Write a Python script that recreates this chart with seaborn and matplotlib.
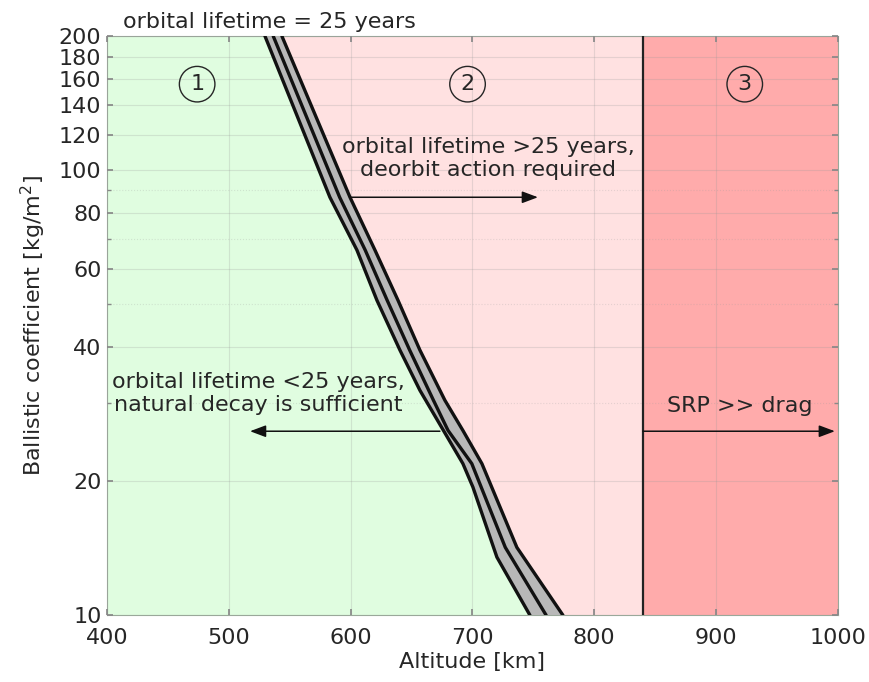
import numpy as np
import pandas as pd
import matplotlib
matplotlib.use("Agg")
import matplotlib.pyplot as plt
import seaborn as sns
from matplotlib.ticker import FixedLocator, FixedFormatter, NullFormatter

# Boundary lines of the 25-year lifetime band (ballistic coefficient vs altitude)
bc_lower = [200, 86.9, 66.1, 51.0, 39.4, 32.0, 21.9, 19.4, 13.5, 10]
alt_lower = [529.7, 583.0, 605.2, 621.6, 640.5, 656.9, 692.2, 700.4, 720.1, 747.2]

bc_mid = [200, 86.9, 66.1, 51.0, 39.4, 30.4, 26.0, 21.9, 14.2, 10]
alt_mid = [536.5, 591.0, 612.0, 630.0, 648.5, 668.0, 680.0, 699.5, 727.0, 760.5]

bc_upper = [200, 86.9, 66.1, 51.0, 39.4, 30.4, 26.0, 21.9, 14.2, 10]
alt_upper = [543.6, 599.5, 620.0, 638.9, 656.9, 677.4, 692.2, 707.8, 736.5, 774.3]

srp_limit = 840
x_range = [400, 1000]
y_range = [10, 200]
y_ticks = [10, 20, 40, 60, 80, 100, 120, 140, 160, 180, 200]
y_minor = [30, 50, 70, 90]
x_ticks = [400, 500, 600, 700, 800, 900, 1000]

sns.set_theme(style="white")
plt.rcParams['font.family'] = ['DejaVu Sans']

fig = plt.figure(figsize=(8.7, 6.82), dpi=100)
ax = fig.add_axes([0.123, 0.098, 0.840, 0.849])

txt = '#262626'
fs = 16

# region backgrounds
ax.fill_betweenx(bc_lower, x_range[0], alt_lower, color='#e0fde0', lw=0, zorder=0.5)
ax.fill_betweenx(bc_upper, alt_upper, srp_limit, color='#ffe1e1', lw=0, zorder=0.5)
ax.axvspan(srp_limit, x_range[1], color='#ffabab', lw=0, zorder=0.5)

# gray band
ax.fill(alt_lower + alt_upper[::-1], bc_lower + bc_upper[::-1],
        color='#b8b8b8', lw=0, zorder=2.6)

lines = pd.concat([
    pd.DataFrame({'alt': alt_lower, 'bc': bc_lower, 'line': 'lower'}),
    pd.DataFrame({'alt': alt_mid, 'bc': bc_mid, 'line': 'mid'}),
    pd.DataFrame({'alt': alt_upper, 'bc': bc_upper, 'line': 'upper'}),
])
sns.lineplot(data=lines, x='alt', y='bc', units='line', estimator=None,
             color='#111111', lw=2.4, ax=ax, zorder=3)

ax.axvline(srp_limit, color='#222222', lw=1.6, zorder=3)

ax.set_yscale('log')
ax.set_xlim(x_range)
ax.set_ylim(y_range)
ax.set_xticks(x_ticks)
ax.yaxis.set_major_locator(FixedLocator(y_ticks))
ax.yaxis.set_major_formatter(FixedFormatter([str(t) for t in y_ticks]))
ax.yaxis.set_minor_locator(FixedLocator(y_minor))
ax.yaxis.set_minor_formatter(NullFormatter())

ax.grid(True, which='major', color='#9a9a9a', alpha=0.25, lw=0.8)
ax.grid(True, which='minor', axis='y', color='#9a9a9a', alpha=0.25, lw=0.8, ls=':')
ax.set_axisbelow(False)

ax.tick_params(axis='both', which='both', direction='in', length=4,
               color='#888888', labelsize=fs, labelcolor=txt,
               left=True, bottom=True, top=True, right=True, pad=4)
ax.tick_params(axis='x', pad=9)
ax.tick_params(axis='y', which='minor', length=3)
for s in ax.spines.values():
    s.set_color('#9aa89a')
    s.set_linewidth(0.8)

ax.set_xlabel('Altitude [km]', fontsize=fs, color=txt, labelpad=3)
ax.set_ylabel('Ballistic coefficient [kg/m$^2$]', fontsize=fs, color=txt, labelpad=8)
ax.set_title('orbital lifetime = 25 years', fontsize=fs, color=txt,
             x=0.222, pad=6)

# region numbers
for num, xpos in zip(['1', '2', '3'], [474, 696, 923.6]):
    ax.text(xpos, 156, num, fontsize=fs, color=txt, ha='center', va='center',
            bbox=dict(boxstyle='circle,pad=0.35', fc='none', ec=txt, lw=1.0), zorder=4)

ax.text(712.7, 106, 'orbital lifetime >25 years,\ndeorbit action required',
        fontsize=fs, color=txt, ha='center', va='center', linespacing=1.18, zorder=4)
ax.text(524, 31.5, 'orbital lifetime <25 years,\nnatural decay is sufficient',
        fontsize=fs, color=txt, ha='center', va='center', linespacing=1.15, zorder=4)
ax.text(919.6, 29.5, 'SRP >> drag', fontsize=fs, color=txt,
        ha='center', va='center', zorder=4)

arrow = dict(arrowstyle='-|>,head_length=0.8,head_width=0.3', color='#111111',
             lw=1.1, shrinkA=0, shrinkB=0)
ax.annotate('', xy=(753.8, 86.9), xytext=(599.5, 86.9), arrowprops=arrow, zorder=4)
ax.annotate('', xy=(517.4, 25.9), xytext=(673.3, 25.9), arrowprops=arrow, zorder=4)
ax.annotate('', xy=(997.6, 25.9), xytext=(840, 25.9), arrowprops=arrow, zorder=4)

fig.savefig('out.png', dpi=100)
